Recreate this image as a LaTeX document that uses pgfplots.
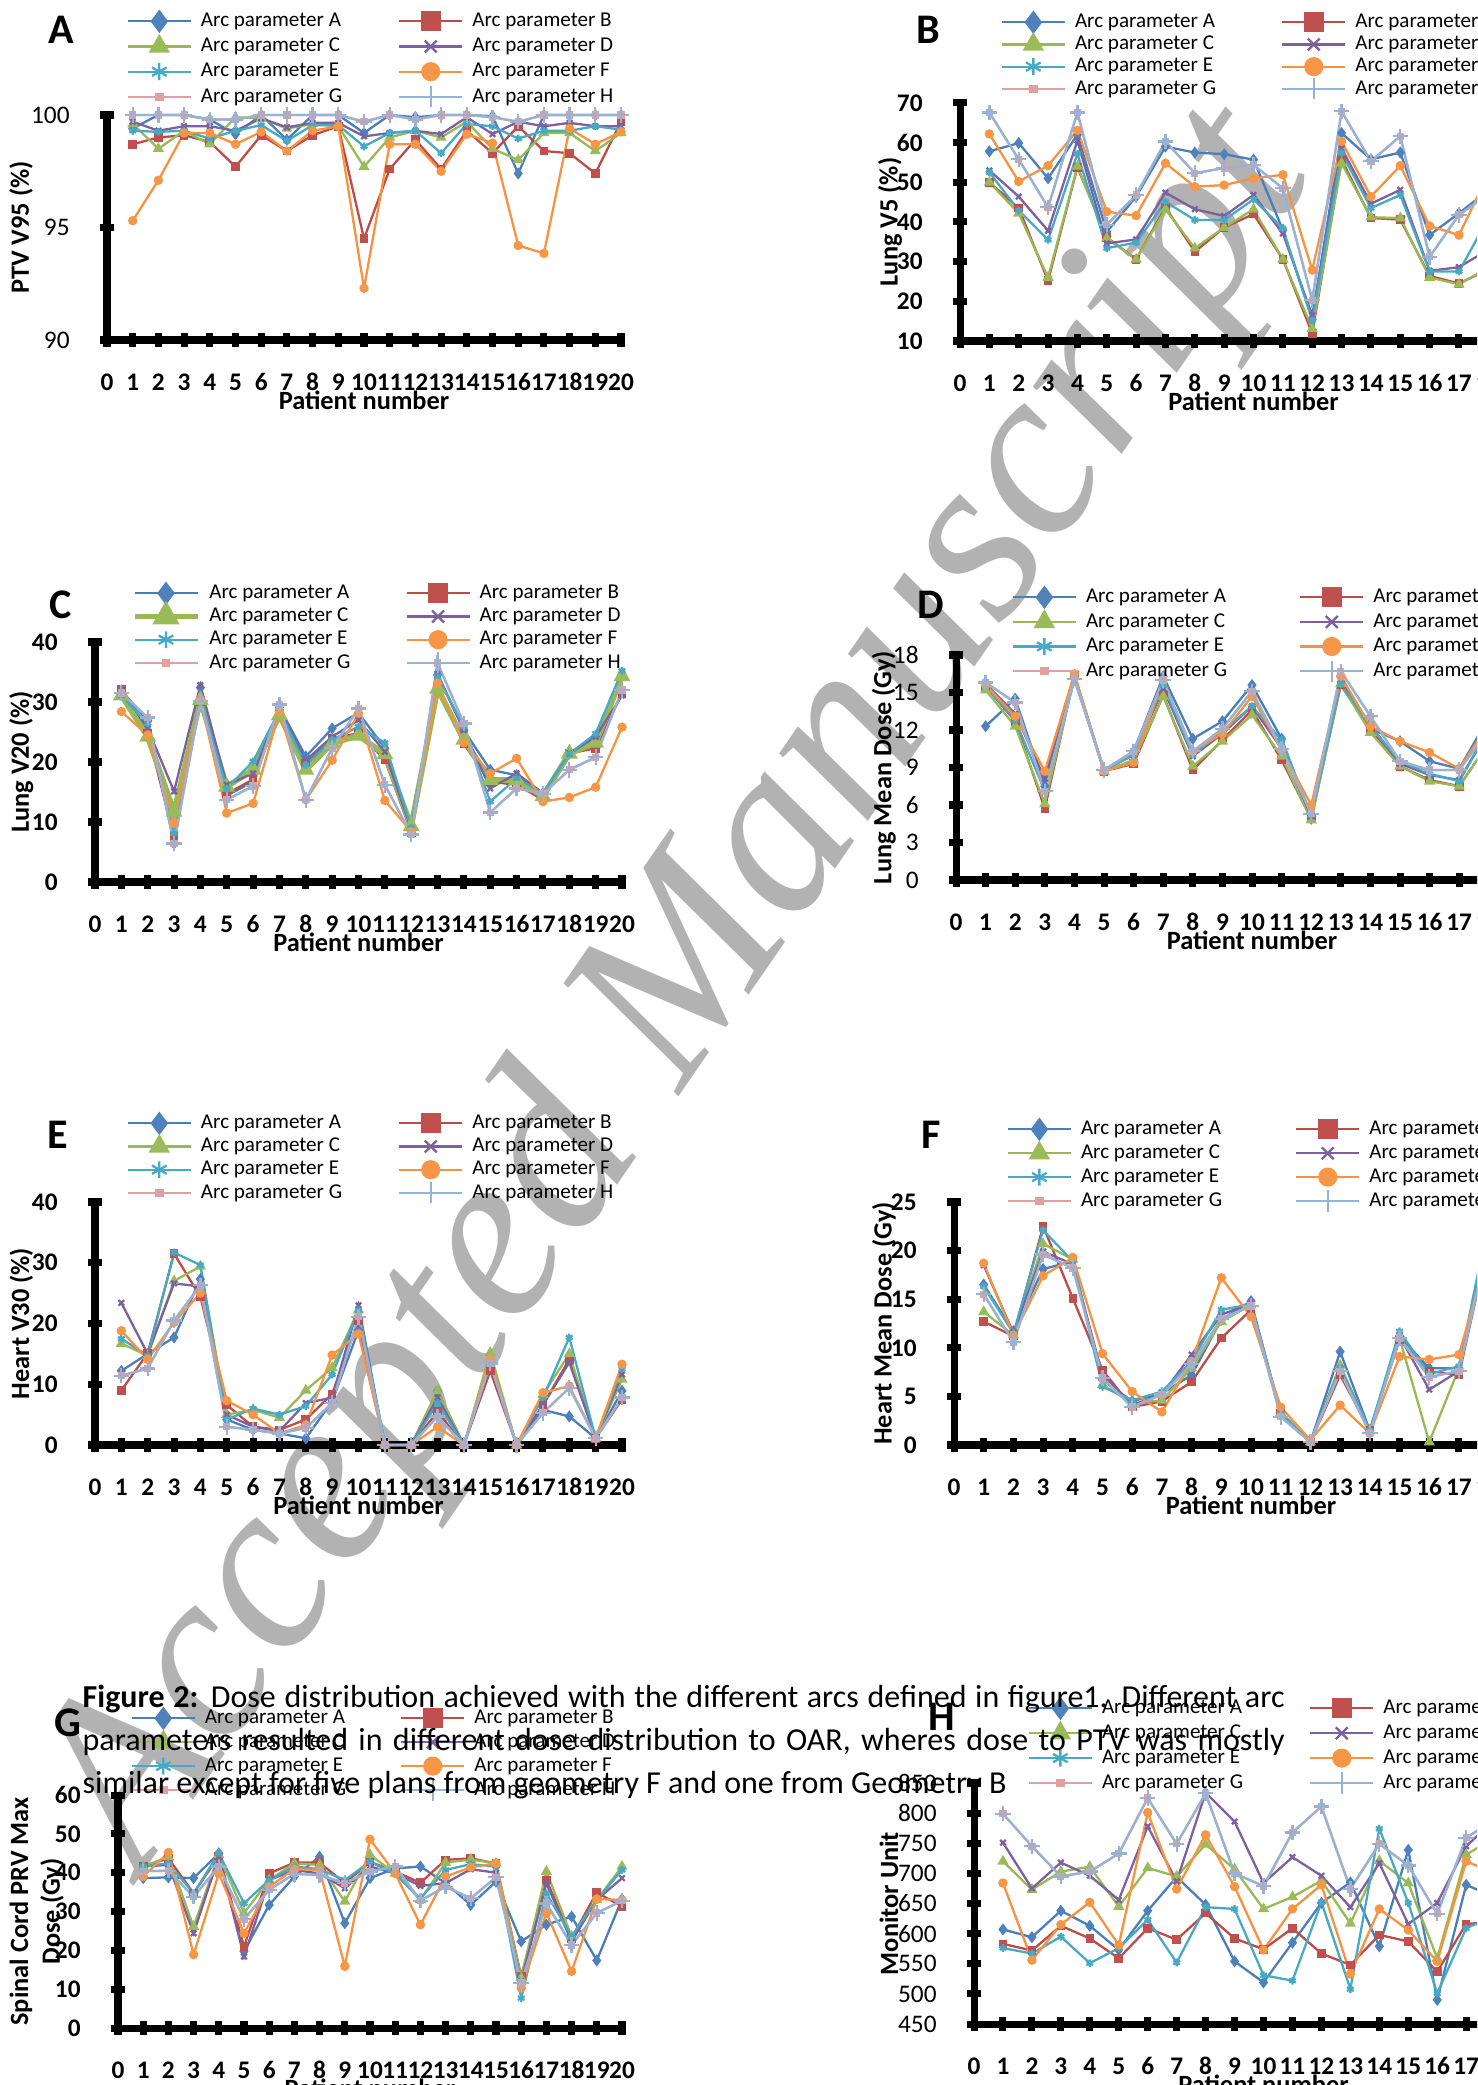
\documentclass[border=0pt]{standalone}
\usepackage{fontspec}
\setmainfont{Carlito}
\newfontfamily\wmfont{Liberation Serif}
\usepackage{pgfplots}
\usepackage{pgfplotstable}
\pgfplotsset{compat=1.18}

\definecolor{cA}{HTML}{4A7EBB}\definecolor{fA}{HTML}{4F81BD}
\definecolor{cB}{HTML}{BE4B48}\definecolor{fB}{HTML}{C0504D}
\definecolor{cC}{HTML}{98B954}\definecolor{fC}{HTML}{9BBB59}
\definecolor{cD}{HTML}{7D60A0}
\definecolor{cE}{HTML}{46AAC5}
\definecolor{cF}{HTML}{F69240}\definecolor{fF}{HTML}{F79646}
\definecolor{cG}{HTML}{E0A0A0}
\definecolor{cH}{HTML}{95B3D7}

\pgfplotstableread{
x A B C D E F H
1 99.4 98.7 99.6 99.7 99.3 95.3 100
2 100 99.0 98.5 99.3 99.25 97.1 100
3 100 99.1 99.3 99.5 99.3 99.2 100
4 99.8 98.8 98.7 99.5 98.95 99.2 99.8
5 99.15 97.7 99.9 99.3 99.3 98.7 99.8
6 100 99.1 99.85 99.85 99.55 99.25 100
7 98.9 98.4 99.4 99.45 98.85 98.4 100
8 100 99.1 99.6 99.65 99.55 99.3 100
9 100 99.5 99.5 99.65 99.55 99.5 100
10 99.2 94.5 97.7 99.05 98.6 92.3 99.7
11 100 97.6 99.0 99.2 99.2 98.7 100
12 99.9 98.9 99.3 99.3 99.3 98.7 99.8
13 100 97.6 99.0 99.15 98.3 97.5 100
14 100 99.3 99.7 99.9 99.6 99.15 100
15 99.95 98.3 98.5 99.15 99.5 98.75 99.9
16 97.4 99.5 98.0 99.7 98.95 94.2 99.7
17 100 98.4 99.2 99.5 99.3 93.85 100
18 100 98.3 99.2 99.65 99.3 99.4 100
19 100 97.4 98.4 99.5 99.5 98.7 100
20 100 99.7 99.2 99.5 99.35 99.25 100
}\tA
\pgfplotstableread{
x A B C D E F H
1 57.8 50.0 50.0 53.0 52.5 62.2 67.6
2 59.9 43.5 42.2 46.4 42.9 50.2 55.8
3 51.0 25.2 26.0 37.8 35.5 54.2 43.7
4 62.0 53.8 54.0 60.5 57.2 63.1 67.6
5 37.5 36.1 35.9 34.6 33.4 42.6 39.3
6 46.4 30.6 30.6 35.6 34.8 41.6 46.8
7 59.0 43.7 43.2 47.4 45.1 54.8 60.3
8 57.5 32.5 33.4 43.2 40.5 48.9 52.3
9 57.1 38.6 38.6 41.5 40.5 49.3 53.6
10 55.7 42.0 43.2 46.8 45.7 51.0 54.4
11 38.0 30.6 30.6 37.1 38.4 51.9 48.5
12 15.5 11.9 13.1 16.5 15.2 27.9 20.3
13 62.4 55.7 54.8 58.6 57.4 60.3 67.9
14 55.8 41.0 41.2 44.6 43.5 46.4 55.3
15 57.5 40.6 41.0 48.1 46.8 54.2 61.6
16 36.7 26.4 26.0 27.7 27.5 39.0 31.2
17 42.2 24.5 24.3 28.6 27.5 36.7 41.8
18 48 28 28.5 33 41 52 47
19 50 30 30 35 37 47 50
20 45 27 28 32 34 44 46
}\tB
\pgfplotstableread{
x A B C D E F H
1 31.9 32.1 31.1 32.2 31.0 28.4 31.5
2 26.9 24.8 24.2 25.6 26.4 24.5 27.4
3 6.4 7.6 11.7 15.1 8.1 9.8 6.4
4 32.4 30.0 30.3 32.8 30.6 30.3 30.2
5 14.4 14.7 15.9 16.2 15.6 11.5 13.7
6 16.7 17.1 18.7 18.1 20.1 13.1 16.0
7 29.1 28.1 27.8 28.8 28.6 28.4 29.6
8 20.9 19.8 18.7 20.3 19.5 13.7 13.7
9 25.6 23.9 23.1 24.2 23.7 20.3 22.3
10 28.2 24.8 24.4 27.0 25.9 28.1 28.9
11 22.3 20.4 21.3 21.7 23.2 13.6 16.2
12 8.7 8.3 9.3 8.8 9.0 8.4 7.9
13 34.5 32.5 32.2 34.7 34.2 33.1 36.5
14 25.3 23.0 23.7 25.3 25.9 23.2 26.4
15 18.7 16.7 17.0 15.6 13.4 18.1 11.6
16 17.8 16.2 17.0 18.1 17.3 20.6 15.6
17 14.8 13.7 14.3 14.8 14.8 13.4 14.7
18 21.4 21.4 21.4 21.4 21.4 14.1 18.7
19 24.2 22.3 23.2 24.2 24.7 15.8 20.8
20 34.6 31.4 34.3 31.1 35.2 25.8 32.0
}\tC
\pgfplotstableread{
x A B C D E F H
1 12.3 15.5 15.2 15.7 15.5 15.6 15.8
2 14.5 12.7 12.3 13.3 12.8 13.1 14.2
3 7.5 5.7 6.1 8.1 7.1 8.7 7.1
4 16.3 16.4 16.3 16.3 16.0 16.5 16.1
5 8.7 8.7 8.7 8.8 8.8 8.7 8.8
6 10.3 9.3 9.6 10.0 10.0 9.4 10.3
7 16.3 14.8 14.7 15.3 15.6 16.0 16.0
8 11.3 8.8 9.1 9.9 10.0 10.3 10.3
9 12.7 11.2 11.1 11.7 11.9 11.7 12.1
10 15.6 13.6 13.2 13.9 13.9 14.7 15.1
11 11.3 9.6 9.9 10.5 11.2 10.4 10.5
12 4.9 4.9 4.8 5.1 5.2 6.0 5.3
13 16.3 15.6 15.7 16.0 15.7 16.3 16.7
14 12.1 12.0 11.8 12.4 12.3 12.3 13.1
15 11.1 9.1 9.1 9.3 9.5 11.1 9.5
16 9.5 8.0 7.9 8.4 8.5 10.2 8.8
17 8.9 7.5 7.5 8.0 7.9 8.9 8.8
18 13 11 11 12 12 12.5 12
19 12 10 10 11 11 11.5 11
20 11 9 9 10 10 10.5 10
}\tD
\pgfplotstableread{
x A B C D E F H
1 12.2 9.0 16.7 23.4 17.5 18.8 11.4
2 15.0 15.1 14.7 15.0 14.7 14.1 12.6
3 17.7 31.5 27.0 26.6 31.7 20.2 20.5
4 27.3 24.4 29.4 26.1 29.6 25.0 26.3
5 4.2 6.6 5.0 5.0 4.2 7.3 3.0
6 2.5 3.0 5.8 3.0 6.0 5.0 2.5
7 1.9 2.5 4.5 2.3 5.0 1.9 1.9
8 1.1 4.2 9.0 6.9 6.4 3.3 2.8
9 7.2 8.4 12.7 7.8 11.6 14.8 6.9
10 18.9 20.5 22.2 23.0 22.2 18.3 21.1
11 0 0 0 0 0 0 0
12 0 0 0 0 0 0 0
13 8.9 5.5 8.9 7.8 6.9 3.0 4.7
14 0 0 0 0 0 0 0
15 13.6 12.2 15.2 13.4 13.6 14.1 13.4
16 0 0 0 0 0 0 0
17 5.8 6.6 8.3 6.6 7.8 8.6 5.3
18 4.7 14.1 15.0 13.6 17.7 9.7 9.4
19 1.1 1.1 1.1 1.1 1.1 1.1 1.1
20 8.9 7.5 10.8 11.6 12.5 13.3 7.8
}\tE
\pgfplotstableread{
x A B C D E F H
1 16.5 12.7 13.7 18.5 16.3 18.7 15.5
2 11.7 11.2 11.3 11.5 11.5 11.3 10.6
3 18.1 22.5 20.7 19.9 22.1 17.4 19.6
4 18.9 15.1 19.1 18.6 18.9 19.3 18.2
5 6.7 7.7 6.2 7.2 6.0 9.4 6.9
6 4.5 3.9 4.3 4.1 4.6 5.5 3.9
7 5.3 4.5 4.6 5.2 5.5 3.4 5.2
8 7.2 6.5 7.9 9.3 8.6 8.6 8.3
9 12.9 11.0 12.7 13.4 13.9 17.2 13.0
10 14.8 13.9 14.4 14.6 14.5 13.2 14.3
11 3.1 3.3 3.3 3.3 3.3 3.9 2.9
12 0.3 0.3 0.3 0.3 0.3 0.5 0.3
13 9.6 7.2 8.2 7.9 7.9 4.1 7.6
14 1.5 1.5 1.5 1.5 1.5 1.2 1.2
15 11.2 10.8 11.0 11.2 11.7 9.1 11.0
16 7.9 7.6 0.3 5.7 7.3 8.8 7.0
17 7.9 7.2 7.9 7.6 8.1 9.3 7.6
18 22 21 21 21 23 20 21
19 14 14 14 14 14 14 14
20 12 12 12 12 12 12 12
}\tF
\pgfplotstableread{
x A B C D E F H
1 38.6 41.6 41.6 41.6 41.6 39.0 40.4
2 38.8 43.7 44.1 42.0 42.4 45.2 40.5
3 38.6 34.7 26.1 24.4 34.7 18.9 33.8
4 45.0 44.3 44.6 44.1 45.0 39.8 41.6
5 19.7 21.0 29.6 18.4 32.1 24.4 28.0
6 31.7 39.8 38.1 38.1 38.1 36.4 35.6
7 39.0 42.6 42.4 40.7 41.6 40.9 39.7
8 44.1 42.6 42.0 39.8 40.9 40.7 39.4
9 27.0 37.3 32.6 36.0 38.1 15.9 37.3
10 38.6 42.8 44.6 41.6 42.8 48.6 40.3
11 41.1 40.3 39.8 39.8 39.7 39.8 41.6
12 41.6 37.4 33.0 36.6 33.4 26.6 32.8
13 37.3 43.3 42.6 37.3 40.7 39.0 36.4
14 31.7 43.7 43.4 40.9 42.2 41.4 33.4
15 37.7 42.4 42.4 40.0 41.6 42.4 38.8
16 22.3 13.3 12.9 12.0 7.7 10.3 11.6
17 26.6 38.1 40.3 37.3 34.7 29.6 32.1
18 28.7 23.1 23.6 22.3 23.6 14.6 21.4
19 17.4 34.9 33.0 33.0 33.0 33.2 29.6
20 33.2 31.3 41.6 38.6 40.7 33.0 32.8
}\tG
\pgfplotstableread{
x A B C D E F H
1 607 583 720 751 576 684 799
2 594 572 673 675 567 556 745
3 638 613 703 718 595 615 695
4 613 592 711 696 551 652 703
5 573 559 645 656 576 581 733
6 638 609 709 778 623 801 825
7 694 590 695 687 552 674 749
8 648 634 748 834 644 764 833
9 554 592 707 786 641 678 700
10 519 574 641 684 531 573 679
11 585 609 661 727 522 641 768
12 651 567 688 696 652 681 811
13 685 548 617 644 508 533 674
14 579 598 721 717 774 641 749
15 739 587 684 616 651 606 713
16 490 537 559 651 501 554 633
17 681 616 731 745 609 720 759
18 660 620 760 790 630 700 790
19 640 600 720 740 620 690 760
20 650 610 730 760 630 700 770
}\tH

\pgfplotsset{
  lgimg/.style={legend image code/.code={\draw[mark repeat=2,mark phase=2,#1] plot coordinates {(0cm,0cm)(0.315cm,0cm)(0.63cm,0cm)};}},
  sA/.style={color=cA, line width=0.65pt, mark=diamond*, mark size=1.2pt, mark options={fill=fA,draw=fA,solid}, lgimg={mark size=2.8pt}},
  sB/.style={color=cB, line width=0.65pt, mark=square*, mark size=0.9pt, mark options={fill=fB,draw=fB,solid}, lgimg={mark size=2.5pt}},
  sC/.style={color=cC, line width=0.65pt, mark=triangle*, mark size=1.2pt, mark options={fill=fC,draw=fC,solid}, lgimg={mark size=2.9pt}},
  sD/.style={color=cD, line width=0.65pt, mark=x, mark size=1.1pt, mark options={solid}, lgimg={mark size=2.4pt}},
  sE/.style={color=cE, line width=0.65pt, mark=asterisk, mark size=1.1pt, mark options={solid}, lgimg={mark size=2.4pt}},
  sF/.style={color=cF, line width=0.65pt, mark=*, mark size=1.0pt, mark options={fill=fF,draw=fF,solid}, lgimg={mark size=2.4pt}},
  sG/.style={color=cG, line width=0.65pt, mark=square*, mark size=0.7pt, mark options={solid}, lgimg={mark size=0.9pt}},
  sH/.style={color=cH, line width=0.65pt, mark=+, mark size=2.2pt, mark options={solid}, lgimg={mark size=3pt}},
  panel/.style={
    scale only axis, anchor=south west,
    axis lines=left, axis line style={-, line width=2pt, black},
    xmin=0, xmax=20, xtick={0,...,20}, clip=false,
    tick align=center, major tick length=1.4mm, tick style={line width=2pt, black},
    /pgf/number format/assume math mode=true,
    xticklabel style={font=\bfseries\fontsize{7.2}{8}\selectfont, anchor=center, yshift=-3.5mm},
    yticklabel style={anchor=east, xshift=-1.8mm},
    label style={font=\bfseries\fontsize{7.5}{9}\selectfont},
    xlabel={Patient number},
    xlabel style={at={(axis description cs:0.5,0)}, anchor=center, yshift=-6mm},
    ylabel style={anchor=center},
    legend columns=2, legend cell align=left,
    legend style={draw=none, fill=none, at={(0,1)}, anchor=north west, inner sep=0pt,
      font=\fontsize{6}{7}\selectfont,
      nodes={inner xsep=0pt, inner ysep=0.6pt, text height=4.2pt, text depth=1.2pt},
      /tikz/every odd column/.append style={column sep=0.9mm}},
  },
  ybold/.style={yticklabel style={font=\bfseries\fontsize{7.2}{8}\selectfont}},
  yreg/.style={yticklabel style={font=\fontsize{7.2}{8}\selectfont}},
}

\newcommand{\plotall}[2]{%
  \addplot[sA] table[x=x,y=A]{#1}; \addlegendentry{Arc parameter A}
  \addplot[sB] table[x=x,y=B]{#1}; \addlegendentry{Arc parameter B}
  \addplot[sC,#2] table[x=x,y=C]{#1}; \addlegendentry{Arc parameter C}
  \addplot[sD] table[x=x,y=D]{#1}; \addlegendentry{Arc parameter D}
  \addplot[sE] table[x=x,y=E]{#1}; \addlegendentry{Arc parameter E}
  \addplot[sF] table[x=x,y=F]{#1}; \addlegendentry{Arc parameter F}
  \addplot[sG] table[x=x,y=H]{#1}; \addlegendentry{Arc parameter G}
  \addplot[sH] table[x=x,y=H]{#1}; \addlegendentry{Arc parameter H}
}

\begin{document}
\begin{tikzpicture}
\useasboundingbox (0,0) rectangle (147.7mm,-208.5mm);
\clip (0,0) rectangle (147.7mm,-208.5mm);

\node[rotate=55.4, text=black!30, inner sep=0pt, font=\wmfont\itshape\fontsize{69}{69}\selectfont] at (68.0mm,-99.2mm) {Accepted Manuscript};

% A
\begin{axis}[panel, yreg, at={(10.7mm,-34.0mm)}, width=51.4mm, height=22.5mm,
  ymin=90, ymax=100, ytick={90,95,100},
  ylabel={PTV V95 (\%)}, ylabel style={at={(axis description cs:-0.167,0.5)}},
  legend style={xshift=1.9mm, yshift=10.6mm, row sep=0.2mm, /tikz/every even column/.append style={column sep=5.6mm}}]
\plotall{\tA}{}
\end{axis}
% B
\begin{axis}[panel, ybold, at={(96.0mm,-34.1mm)}, width=58.7mm, height=23.8mm,
  ymin=10, ymax=70, ytick={10,20,...,70},
  ylabel={Lung V5 (\%)}, ylabel style={at={(axis description cs:-0.119,0.5)}},
  legend style={xshift=4.0mm, yshift=9.3mm, row sep=-0.1mm, /tikz/every even column/.append style={column sep=6.5mm}}]
\plotall{\tB}{}
\end{axis}
% C
\begin{axis}[panel, ybold, at={(9.5mm,-88.2mm)}, width=52.7mm, height=24.0mm,
  ymin=0, ymax=40, ytick={0,10,...,40},
  ylabel={Lung V20 (\%)}, ylabel style={at={(axis description cs:-0.140,0.5)}},
  legend style={xshift=3.6mm, yshift=6.1mm, row sep=0mm, /tikz/every even column/.append style={column sep=5.5mm}}]
\plotall{\tC}{line width=1.6pt}
\end{axis}
% D
\begin{axis}[panel, yreg, at={(95.6mm,-88.0mm)}, width=59.2mm, height=22.5mm,
  ymin=0, ymax=18, ytick={0,3,...,18},
  ylabel={Lung Mean Dose (Gy)}, ylabel style={at={(axis description cs:-0.122,0.5)}},
  legend style={xshift=5.5mm, yshift=7.0mm, row sep=0.14mm, /tikz/every even column/.append style={column sep=7.2mm}}]
\plotall{\tD}{}
\end{axis}
% E
\begin{axis}[panel, ybold, at={(9.5mm,-144.5mm)}, width=52.7mm, height=24.3mm,
  ymin=0, ymax=40, ytick={0,10,...,40},
  ylabel={Heart V30 (\%)}, ylabel style={at={(axis description cs:-0.140,0.5)}},
  legend style={xshift=3.1mm, yshift=9.1mm, row sep=0mm, /tikz/every even column/.append style={column sep=5.6mm}}]
\plotall{\tE}{}
\end{axis}
% F
\begin{axis}[panel, ybold, at={(95.4mm,-144.5mm)}, width=59.4mm, height=24.3mm,
  ymin=0, ymax=25, ytick={0,5,...,25},
  ylabel={Heart Mean Dose (Gy)}, ylabel style={at={(axis description cs:-0.118,0.5)}},
  legend style={xshift=5.2mm, yshift=8.5mm, row sep=0.07mm, /tikz/every even column/.append style={column sep=7.3mm}}]
\plotall{\tF}{}
\end{axis}
% G
\begin{axis}[panel, ybold, at={(11.8mm,-202.8mm)}, width=50.4mm, height=23.3mm,
  ymin=0, ymax=60, ytick={0,10,...,60},
  ylabel={Spinal Cord PRV Max\\Dose (Gy)}, ylabel style={align=center, at={(axis description cs:-0.161,0.5)}},
  legend style={xshift=1.2mm, yshift=8.9mm, row sep=0.07mm, /tikz/every even column/.append style={column sep=5.4mm}}]
\plotall{\tG}{}
\end{axis}
% H
\begin{axis}[panel, yreg, at={(97.4mm,-202.4mm)}, width=57.9mm, height=24.1mm,
  ymin=450, ymax=850, ytick={450,500,...,850},
  ylabel={Monitor Unit}, ylabel style={at={(axis description cs:-0.147,0.5)}},
  legend style={xshift=5.3mm, yshift=8.7mm, row sep=0.17mm, /tikz/every even column/.append style={column sep=6.6mm}}]
\plotall{\tH}{}
\end{axis}

% panel letters
\begin{scope}[every node/.style={font=\bfseries\fontsize{12}{12}\selectfont, inner sep=0pt}]
\node at (6.1mm,-3.0mm) {A};
\node at (92.8mm,-3.0mm) {B};
\node at (6.1mm,-60.5mm) {C};
\node at (93.1mm,-60.5mm) {D};
\node at (5.8mm,-113.5mm) {E};
\node at (93.1mm,-113.5mm) {F};
\node at (6.8mm,-172.3mm) {G};
\node at (94.2mm,-171.7mm) {H};
\end{scope}

% caption
\begin{scope}[every node/.style={anchor=base west, inner sep=0pt, font=\fontsize{9.1}{11}\selectfont}]
\node at (8.2mm,-170.7mm) {\makebox[120.2mm][s]{\textbf{Figure 2:} Dose distribution achieved with the different arcs defined in figure1. Different arc}};
\node at (8.2mm,-175.0mm) {\makebox[120.2mm][s]{parameters resulted in different dose distribution to OAR, wheres dose to PTV was mostly}};
\node at (8.2mm,-179.3mm) {similar except for five plans from geometry F and one from Geometry B};
\end{scope}
\end{tikzpicture}
\end{document}
